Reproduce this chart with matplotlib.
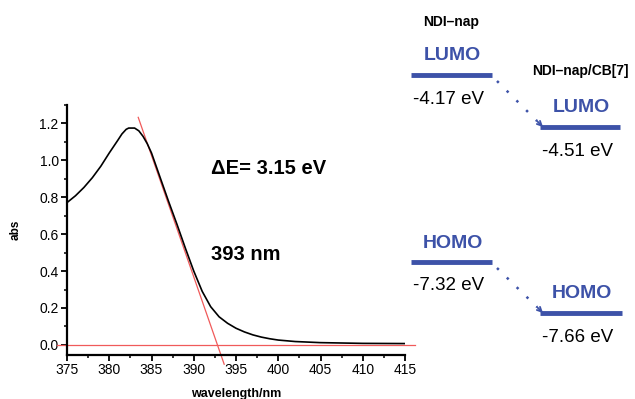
import matplotlib
matplotlib.use("Agg")
import matplotlib.pyplot as plt
from matplotlib.ticker import MultipleLocator

plt.rcParams['font.family'] = ['Liberation Sans', 'DejaVu Sans']

# absorbance spectrum
wavelength = [375, 376, 377, 378, 379, 380, 381, 381.5, 382.0, 382.3, 383.0, 383.5, 384, 384.5, 385,
              386, 387, 388, 389, 390, 391, 392, 393, 394, 395, 396, 397, 398, 399,
              400, 402, 405, 410, 415]
absorb = [0.771, 0.808, 0.853, 0.906, 0.968, 1.04, 1.108, 1.143, 1.168, 1.175, 1.175, 1.16, 1.13, 1.09, 1.04,
          0.91, 0.78, 0.655, 0.525, 0.40, 0.29, 0.207, 0.152, 0.117, 0.090, 0.070, 0.054,
          0.042, 0.033, 0.026, 0.018, 0.012, 0.008, 0.007]

# tangent (onset) line and baseline
tangent_x = [383.43, 393.6]
tangent_y = [1.233, -0.105]
base_x = [373.8, 416.2]
base_y = [0.0, 0.0]

xticks = [375, 380, 385, 390, 395, 400, 405, 410, 415]
yticks = [0.0, 0.2, 0.4, 0.6, 0.8, 1.0, 1.2]

gap_label = "ΔE= 3.15 eV"
onset_label = "393 nm"

W, H = 635, 399
fig = plt.figure(figsize=(W / 100, H / 100), dpi=100)
ax = fig.add_axes([67 / W, 1 - 355 / H, (405 - 67) / W, (355 - 105) / H])

red = '#f05a5a'
ax.plot(wavelength, absorb, color='black', lw=1.2, zorder=3)
ax.plot(tangent_x, tangent_y, color=red, lw=0.9, clip_on=False, zorder=2)
ax.plot(base_x, base_y, color=red, lw=0.9, clip_on=False, zorder=2)

ax.set_xlim(375, 415)
ax.set_ylim(-0.055, 1.30)
ax.set_xticks(xticks)
ax.set_yticks(yticks)
ax.set_yticklabels([f"{v:.1f}" for v in yticks])
ax.xaxis.set_minor_locator(MultipleLocator(2.5))
ax.yaxis.set_minor_locator(MultipleLocator(0.1))
for s in ['top', 'right']:
    ax.spines[s].set_visible(False)
for s in ['left', 'bottom']:
    ax.spines[s].set_linewidth(1.6)
ax.tick_params(which='major', direction='out', length=4, width=1.3, labelsize=10, pad=2)
ax.tick_params(which='minor', direction='out', length=2.5, width=1.1)
ax.set_xlabel("wavelength/nm", fontsize=9, fontweight='bold', labelpad=8)
ax.set_ylabel("abs", fontsize=8.5, fontweight='bold', labelpad=13)
ax.patch.set_alpha(0)

# overlay in pixel coordinates for annotations / energy diagram
ov = fig.add_axes([0, 0, 1, 1], zorder=5)
ov.set_xlim(0, W)
ov.set_ylim(H, 0)
ov.axis('off')
ov.patch.set_alpha(0)

ov.text(211, 168, gap_label, fontsize=14.5, fontweight='bold', va='center', ha='left')
ov.text(211, 254, onset_label, fontsize=14.5, fontweight='bold', va='center', ha='left')

blue = '#3d52a8'
species = ["NDI–nap", "NDI–nap/CB[7]"]
lumo = ["-4.17 eV", "-4.51 eV"]
homo = ["-7.32 eV", "-7.66 eV"]

ov.text(451, 22, species[0], fontsize=10, fontweight='bold', ha='center', va='center')
ov.text(580, 71, species[1], fontsize=10, fontweight='bold', ha='center', va='center')

def level(x0, x1, y, name, value):
    c = (x0 + x1) / 2
    ov.plot([x0, x1], [y, y], color=blue, lw=3.5, solid_capstyle='butt')
    ov.text(c + 1, y - 19, name, color=blue, fontsize=14,
            fontweight='bold', ha='center', va='center')
    ov.text(c - 3, y + 24, value, color='black', fontsize=13.5,
            ha='center', va='center')

def link(xa, ya, xb, yb):
    ov.plot([xa, xb - 6], [ya, yb - 6], color=blue, lw=1.8, linestyle=(0, (1, 4.5)))
    ov.annotate("", xy=(xb, yb), xytext=(xb - 6, yb - 6),
                arrowprops=dict(arrowstyle='->', color=blue, lw=1.3,
                                shrinkA=0, shrinkB=0, mutation_scale=8))

level(411, 492, 75, "LUMO", lumo[0])
level(540, 620, 127, "LUMO", lumo[1])
level(411, 492, 262, "HOMO", homo[0])
level(540, 622, 313, "HOMO", homo[1])
link(497, 81, 543, 127)
link(497, 268, 543, 313)

fig.savefig("out.png", dpi=100)
